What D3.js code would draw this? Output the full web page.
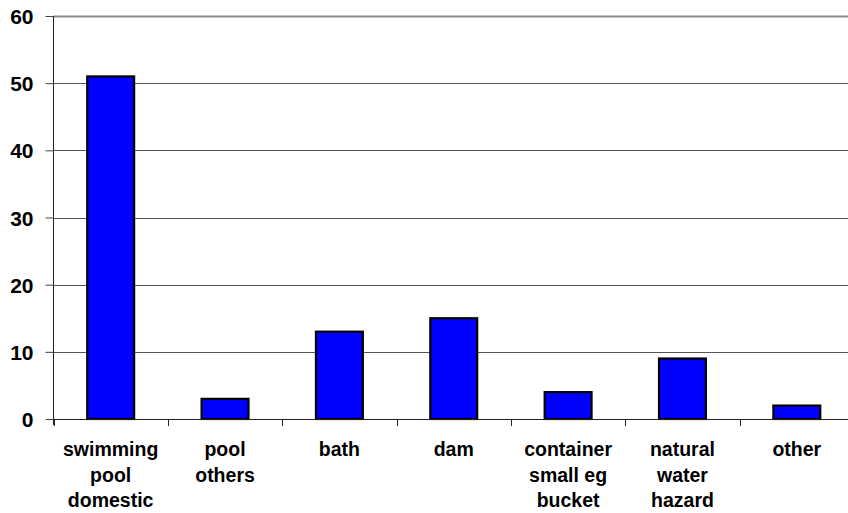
<!DOCTYPE html>
<html>
<head>
<meta charset="utf-8">
<script src="https://cdn.jsdelivr.net/npm/d3@7"></script>
<style>
  html, body { margin: 0; padding: 0; background: #fff; }
  svg { display: block; }
  text { font-family: "Liberation Sans", Arial, sans-serif; font-weight: bold; fill: #000; }
</style>
</head>
<body>
<svg id="chart" width="848" height="513"></svg>
<script>
// Drowning locations: number of cases per category
const categories = [
  ["swimming", "pool", "domestic"],
  ["pool", "others"],
  ["bath"],
  ["dam"],
  ["container", "small eg", "bucket"],
  ["natural", "water", "hazard"],
  ["other"]
];
const counts = [51, 3, 13, 15, 4, 9, 2];
const yTicks = [0, 10, 20, 30, 40, 50, 60];

const svg = d3.select("#chart");
const plotLeft = 53.5, plotRight = 854, plotTop = 16, plotBottom = 419;

const x = d3.scaleBand()
  .domain(d3.range(categories.length))
  .range([plotLeft, plotRight])
  .paddingInner(0.59)
  .paddingOuter(0.295);

const y = d3.scaleLinear().domain([0, 60]).range([plotBottom, plotTop]);

// horizontal gridlines
svg.append("g")
  .selectAll("line")
  .data(yTicks.filter(t => t > 0 && t < 60))
  .join("line")
  .attr("x1", plotLeft).attr("x2", 848)
  .attr("y1", d => Math.round(y(d)) + 0.5).attr("y2", d => Math.round(y(d)) + 0.5)
  .attr("stroke", "#555").attr("stroke-width", 1);

// top border of the plot area
svg.append("line")
  .attr("x1", plotLeft).attr("x2", 848)
  .attr("y1", y(60) + 0.5).attr("y2", y(60) + 0.5)
  .attr("stroke", "#8a8a8a").attr("stroke-width", 2);

// bars
svg.append("g")
  .selectAll("rect")
  .data(counts)
  .join("rect")
  .attr("x", (d, i) => x(i))
  .attr("y", d => y(d))
  .attr("width", x.bandwidth())
  .attr("height", d => y(0) - y(d))
  .attr("fill", "#0000ff")
  .attr("stroke", "#000")
  .attr("stroke-width", 2.2);

// y axis
const yAxis = svg.append("g")
  .attr("transform", `translate(${plotLeft},0)`)
  .call(d3.axisLeft(y).tickValues(yTicks).tickSize(8).tickPadding(12).tickFormat(d3.format("d")));
yAxis.select(".domain").attr("stroke", "#222").attr("d", `M0,${plotTop}V${plotBottom + 6}`);
yAxis.selectAll(".tick line").attr("stroke", "#444");
yAxis.selectAll(".tick text")
  .attr("font-size", 21)
  .style("font-family", "'Liberation Sans', Arial, sans-serif")
  .style("font-weight", "bold")
  .attr("dy", "0.36em");

// x axis baseline with category separators
const xAxisG = svg.append("g");
xAxisG.append("line")
  .attr("x1", plotLeft).attr("x2", 848)
  .attr("y1", plotBottom + 0.5).attr("y2", plotBottom + 0.5)
  .attr("stroke", "#222");
const step = x.step();
xAxisG.selectAll(".sep")
  .data(d3.range(categories.length + 1))
  .join("line")
  .attr("class", "sep")
  .attr("x1", i => Math.round(plotLeft + i * step) + 0.5)
  .attr("x2", i => Math.round(plotLeft + i * step) + 0.5)
  .attr("y1", plotBottom).attr("y2", plotBottom + 7)
  .attr("stroke", "#222");

// multi-line category labels
const labels = xAxisG.selectAll(".lbl")
  .data(categories)
  .join("text")
  .attr("class", "lbl")
  .attr("text-anchor", "middle")
  .attr("font-size", 19.5)
  .attr("x", (d, i) => x(i) + x.bandwidth() / 2)
  .attr("y", 456);
labels.selectAll("tspan")
  .data(d => d)
  .join("tspan")
  .attr("x", function () { return this.parentNode.getAttribute("x"); })
  .attr("dy", (d, j) => j === 0 ? 0 : 25.5)
  .text(d => d);
</script>
</body>
</html>
